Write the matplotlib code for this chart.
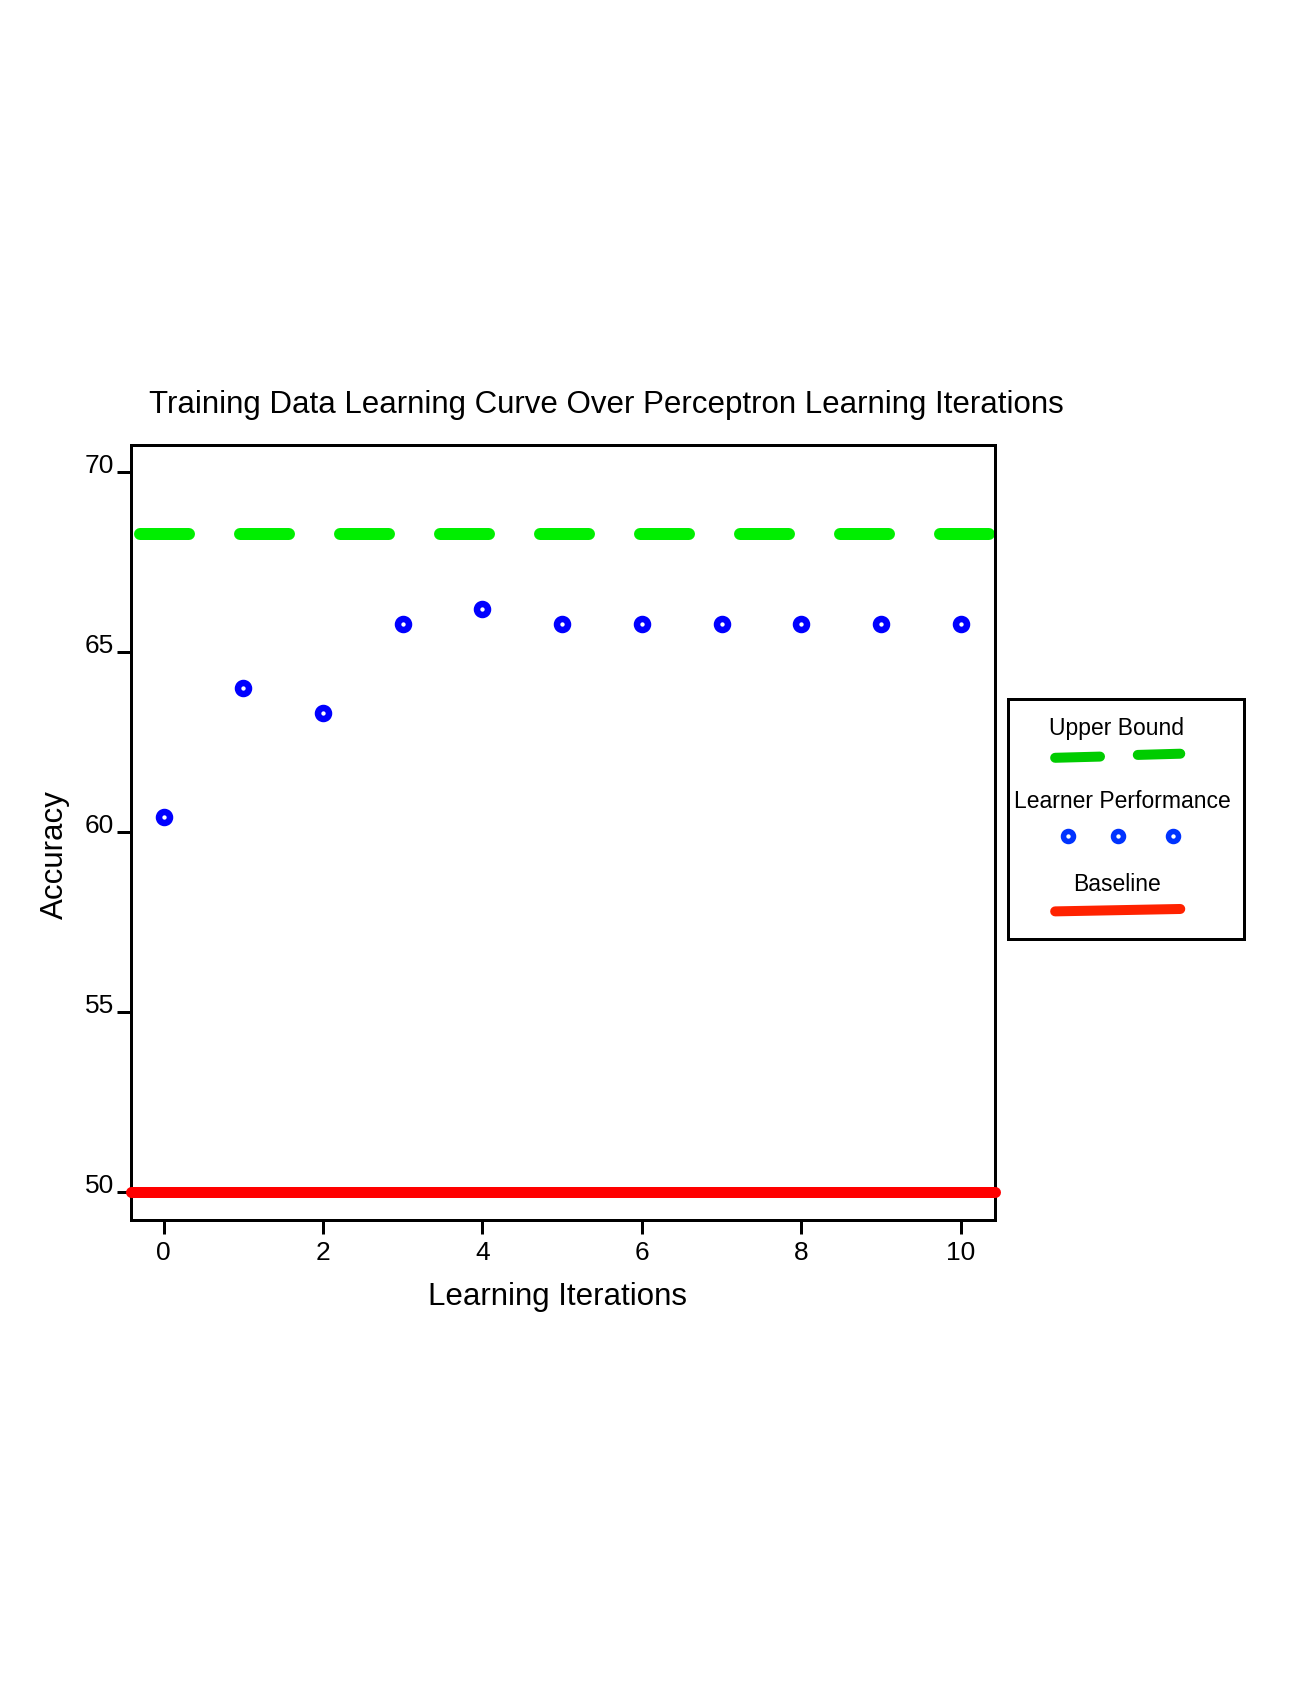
import numpy as np
import matplotlib
matplotlib.use("Agg")
import matplotlib.pyplot as plt
from matplotlib.lines import Line2D

plt.rcParams['font.family'] = ['Liberation Sans', 'DejaVu Sans']
plt.rcParams['lines.scale_dashes'] = False

# data
iterations = [0, 1, 2, 3, 4, 5, 6, 7, 8, 9, 10]
learner_acc = [60.42, 64.0, 63.3, 65.78, 66.2, 65.78, 65.78, 65.78, 65.78, 65.78, 65.78]
upper_bound = 68.3
baseline = 50.0
x_ticks = [0, 2, 4, 6, 8, 10]
y_ticks = [50, 55, 60, 65, 70]

DPI = 100
px = 72.0 / DPI  # points per pixel

fig = plt.figure(figsize=(13.15, 16.9), dpi=DPI)
ax = fig.add_axes([0.0996, 0.2778, 0.657, 0.4583])

xlim = (-0.41, 10.43)
ylim = (49.24, 70.76)

ax.plot(xlim, [upper_bound, upper_bound], color='#00ee00', lw=12 * px,
        solid_capstyle='round', dash_capstyle='round',
        linestyle=(91 * px, (49 * px, 51 * px)), zorder=2)
ax.plot(xlim, [baseline, baseline], color='#ff0000', lw=11 * px,
        solid_capstyle='round', clip_on=False, zorder=3)
ax.plot(iterations, learner_acc, 'o', mfc='white', mec='#0000ff',
        ms=11 * px, mew=6.5 * px, zorder=4)

ax.set_xlim(*xlim)
ax.set_ylim(*ylim)
ax.set_xticks(x_ticks)
ax.set_yticks(y_ticks)
for s in ax.spines.values():
    s.set_linewidth(3 * px)
ax.tick_params(axis='both', direction='out', length=14 * px, width=3 * px,
               labelsize=19)
ax.tick_params(axis='y', pad=2)
ax.tick_params(axis='x', pad=5)
for lab in ax.get_yticklabels():
    lab.set_verticalalignment('baseline')

ax.set_title('Training Data Learning Curve Over Perceptron Learning Iterations',
             fontsize=22.5, pad=24, x=0.55)
ax.set_xlabel('Learning Iterations', fontsize=22.5, labelpad=12, x=0.494)
ax.set_ylabel('Accuracy', fontsize=22.5, labelpad=11, y=0.472)

# legend box drawn by hand (titles above each sample)
lg = fig.add_axes([0.7665, 0.4438, 0.1795, 0.142])
lg.set_xlim(0, 1)
lg.set_ylim(0, 1)
lg.set_xticks([])
lg.set_yticks([])
for s in lg.spines.values():
    s.set_linewidth(3 * px)

lg.text(0.46, 0.883, 'Upper Bound', ha='center', va='center', fontsize=16.5)
lg.add_line(Line2D([0.20, 0.39], [0.755, 0.76], color='#00cc00', lw=10 * px,
                   solid_capstyle='round'))
lg.add_line(Line2D([0.55, 0.73], [0.767, 0.772], color='#00cc00', lw=10 * px,
                   solid_capstyle='round'))
lg.text(0.485, 0.575, 'Learner Performance', ha='center', va='center', fontsize=16.5)
lg.plot([0.254, 0.466, 0.699], [0.43, 0.43, 0.43], 'o', mfc='white', mec='#0033ff',
        ms=10 * px, mew=5.5 * px)
lg.text(0.46, 0.23, 'Baseline', ha='center', va='center', fontsize=16.5)
lg.add_line(Line2D([0.20, 0.73], [0.115, 0.125], color='#ff2200', lw=10 * px,
                   solid_capstyle='round'))

plt.savefig('out.png', dpi=DPI)
